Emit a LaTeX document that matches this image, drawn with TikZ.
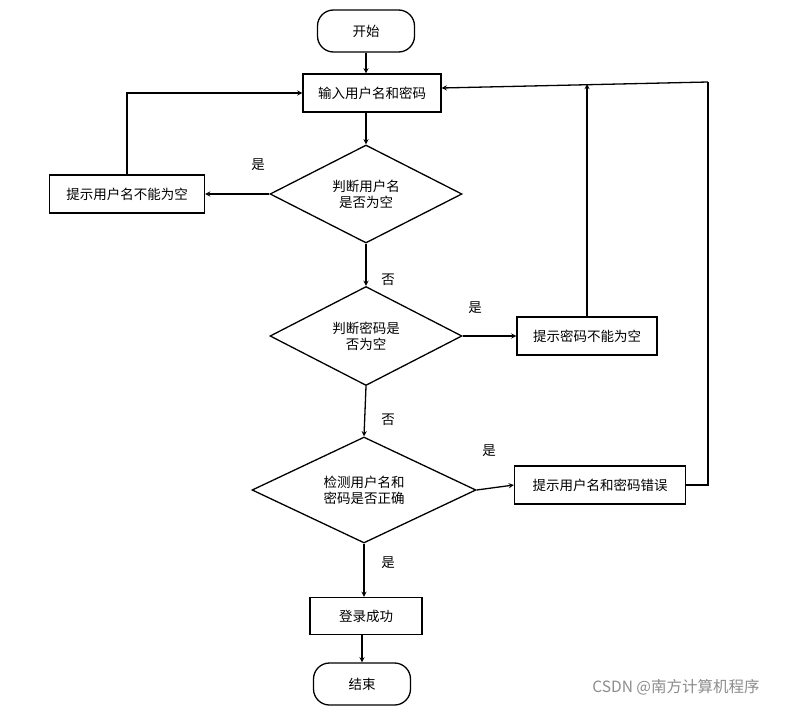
\documentclass[tikz,border=0pt]{standalone}
\usepackage{fontspec}
\setmainfont{Noto Sans CJK SC}
\usetikzlibrary{shapes.geometric}
\begin{document}
\begin{tikzpicture}[x=1pt,y=-1pt,font=\fontsize{13.5}{16}\selectfont,
  box/.style={draw,line width=1.3pt,minimum height=38pt,inner sep=0pt},
  term/.style={draw,line width=1.3pt,rounded corners=16pt,minimum width=97pt,minimum height=42pt},
  dec/.style={draw,line width=1.3pt,diamond,aspect=1.95,inner sep=0pt,align=center},
  flow/.style={line width=1.3pt,->,>=stealth}]
\useasboundingbox (0,0) rectangle (798,706);

\node[term] (start) at (366,31) {开始};
\node[box,minimum width=138pt] (input) at (372,93) {输入用户名和密码};
\node[dec,minimum width=192pt,minimum height=98pt] (chkname) at (366,194) {判断用户名\\是否为空};
\node[box,minimum width=155pt] (noname) at (127,194) {提示用户名不能为空};
\node[dec,minimum width=192pt,minimum height=99pt] (chkpwd) at (366,336) {判断密码是\\否为空};
\node[box,minimum width=140pt] (nopwd) at (587,336) {提示密码不能为空};
\node[dec,minimum width=224pt,minimum height=106pt] (chkok) at (364,490) {检测用户名和\\密码是否正确};
\node[box,minimum width=171pt] (wrong) at (600,485) {提示用户名和密码错误};
\node[box,minimum width=112pt,minimum height=37pt] (login) at (366,616) {登录成功};
\node[term] (stop) at (362,684) {结束};
\coordinate (rtop) at (708,82);
\coordinate (rbot) at (708,485);

% labels
\node (y1) at (258,165) {是};
\node (n1) at (388,280) {否};
\node (y2) at (475,308) {是};
\node (n2) at (388,420) {否};
\node (y3) at (489,451) {是};
\node (y4) at (388,563) {是};
\node[text=black!45,font=\fontsize{15.5}{18}\selectfont] (mark) at (676,687) {CSDN @南方计算机程序};

% connectors
\draw[flow] (start) -- (start|-input.north);
\draw[flow] (input.south-|chkname) -- (chkname.north);
\draw[flow] (chkname.west) -- (noname.east);
\draw[flow] (noname.north) |- (input.west);
\draw[flow] (chkname.south) -- (chkpwd.north);
\draw[flow] (chkpwd.east) -- (nopwd.west);
\draw[flow] (nopwd.north) -- (587,84);
\draw[flow] (chkpwd.south) -- (chkok.north);
\draw[flow] (chkok.east) -- (wrong.west);
\draw[line width=1.3pt] (wrong.east) -- (rbot) -- (rtop);
\draw[flow] (rtop) -- (input.east|-0,88);
\draw[flow] (chkok.south) -- (chkok.south|-login.north);
\draw[flow] (login.south-|stop) -- (stop.north);
\end{tikzpicture}
\end{document}
